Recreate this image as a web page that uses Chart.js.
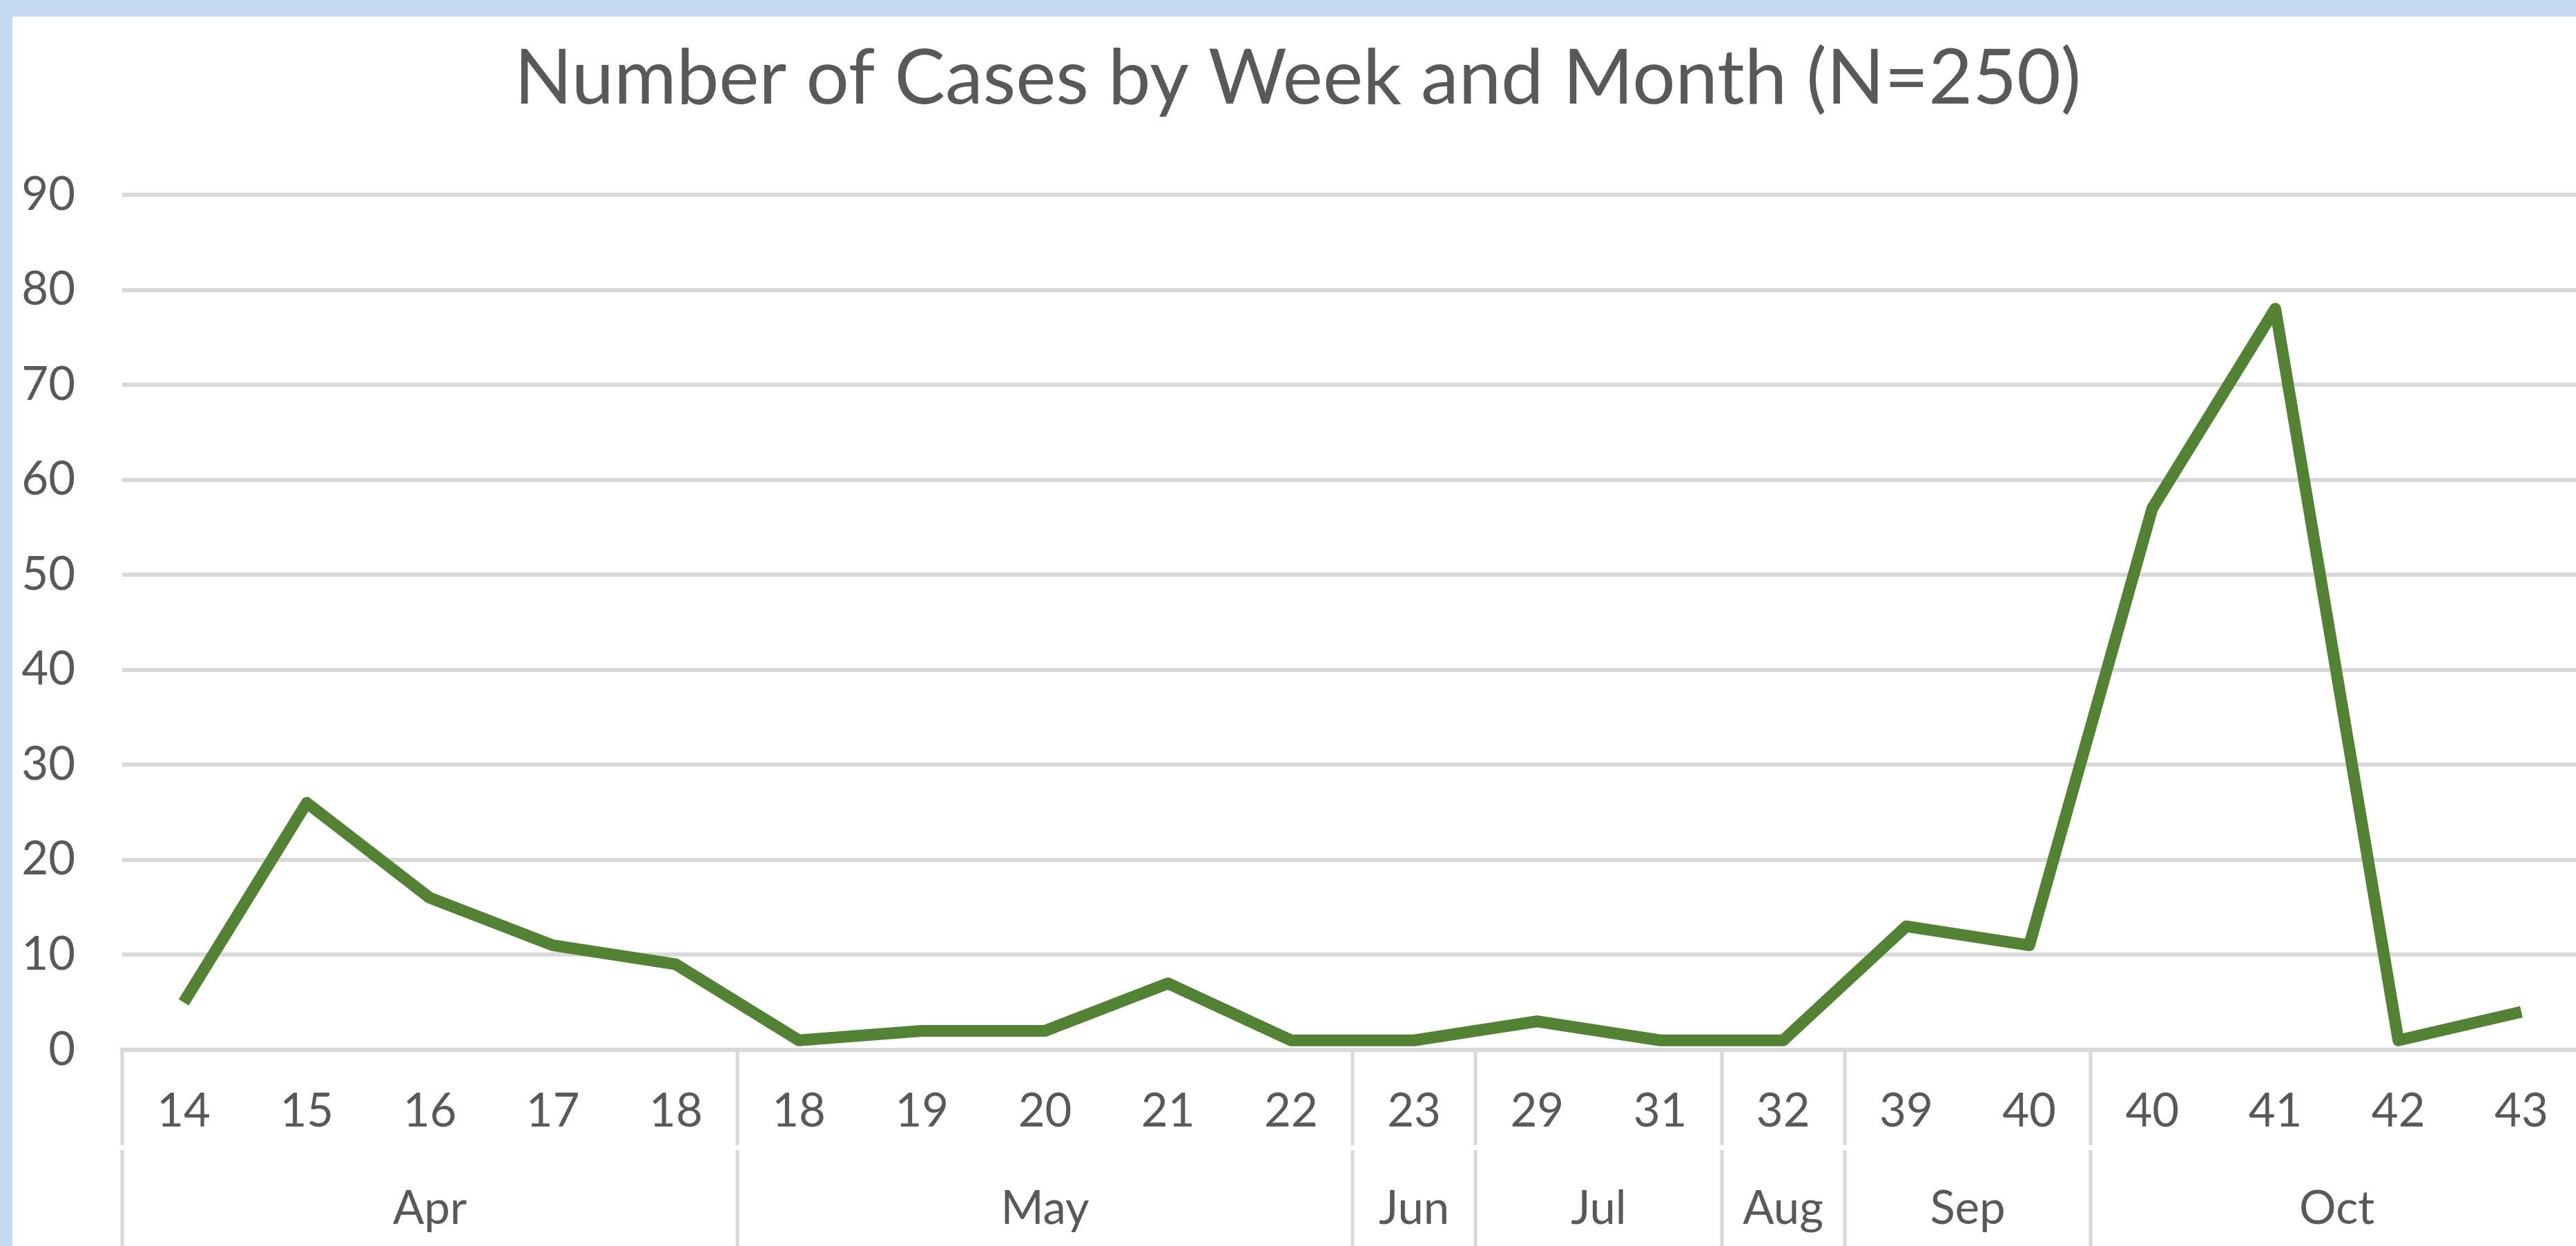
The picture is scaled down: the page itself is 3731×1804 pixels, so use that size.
<!DOCTYPE html>
<html>
<head>
<meta charset="utf-8">
<title>Number of Cases by Week and Month</title>
<script src="https://cdn.jsdelivr.net/npm/chart.js@4.4.1/dist/chart.umd.min.js"></script>
<style>
  html, body { margin: 0; padding: 0; overflow: hidden; background: #C5D9F1; }
  #wrap { position: absolute; left: 18px; top: 24px; width: 3740px; height: 1780px; background: #fff; }
</style>
</head>
<body>
<div id="wrap"><canvas id="casesChart" width="3740" height="1780"></canvas></div>
<script>
// week numbers, one per point
const weeks = ['14', '15', '16', '17', '18', '18', '19', '20', '21', '22', '23', '29', '31', '32', '39', '40', '40', '41', '42', '43'];
// month groups and how many weeks fall in each
const months = ['Apr', 'May', 'Jun', 'Jul', 'Aug', 'Sep', 'Oct'];
const monthSpans = [5, 5, 1, 2, 1, 2, 4];
// cases per week (total 250)
const cases = [5, 26, 16, 11, 9, 1, 2, 2, 7, 1, 1, 3, 1, 1, 13, 11, 57, 78, 1, 4];
const yTicks = [0, 10, 20, 30, 40, 50, 60, 70, 80, 90];

const textColor = '#595959';
const gridColor = '#D9D9D9';
const fontFamily = 'Lato, "Open Sans", sans-serif';

// second row of the category axis: month names + group dividers
const monthRow = {
  id: 'monthRow',
  afterDraw(chart) {
    const x = chart.scales.x;
    const ctx = chart.ctx;
    const half = (x.getPixelForValue(1) - x.getPixelForValue(0)) / 2;
    const top = chart.chartArea.bottom;
    const bottom = chart.height;
    const gapTop = top + 138, gapBottom = top + 145;

    ctx.save();
    ctx.strokeStyle = gridColor;
    ctx.lineWidth = 5;
    ctx.fillStyle = textColor;
    ctx.font = '67px ' + fontFamily;
    ctx.textAlign = 'center';
    ctx.textBaseline = 'alphabetic';

    let start = 0;
    const edges = [];
    months.forEach((m, i) => {
      const end = start + monthSpans[i] - 1;
      const left = x.getPixelForValue(start) - half;
      const right = x.getPixelForValue(end) + half;
      edges.push(left, right);
      ctx.fillText(m, (left + right) / 2, top + 252);
      start = end + 1;
    });

    [...new Set(edges.map(e => Math.round(e)))].forEach(px => {
      ctx.beginPath();
      ctx.moveTo(px, top);
      ctx.lineTo(px, gapTop);
      ctx.moveTo(px, gapBottom);
      ctx.lineTo(px, bottom);
      ctx.stroke();
    });
    ctx.restore();
  }
};

new Chart(document.getElementById('casesChart'), {
  type: 'line',
  data: {
    labels: weeks,
    datasets: [{
      label: 'Cases',
      data: cases,
      borderColor: '#548235',
      borderWidth: 17,
      borderJoinStyle: 'round',
      borderCapStyle: 'butt',
      tension: 0,
      pointRadius: 0,
      fill: false
    }]
  },
  options: {
    responsive: false,
    animation: false,
    devicePixelRatio: 1,
    layout: { padding: { left: 0, right: 17, top: 0, bottom: 0 } },
    plugins: {
      legend: { display: false },
      tooltip: { enabled: false },
      title: {
        display: true,
        text: 'Number of Cases by Week and Month (N=250)',
        color: textColor,
        font: { family: fontFamily, size: 110, weight: 'normal' },
        padding: { top: 25, bottom: 101 }
      }
    },
    scales: {
      x: {
        type: 'category',
        offset: true,
        grid: { display: false, drawTicks: false },
        border: { display: true, color: gridColor, width: 6 },
        ticks: {
          color: textColor,
          font: { family: fontFamily, size: 67 },
          padding: 49,
          maxRotation: 0,
          autoSkip: false
        },
        afterFit: (scale) => { scale.height = 284; }
      },
      y: {
        min: 0,
        max: 90,
        afterBuildTicks: (scale) => { scale.ticks = yTicks.map(v => ({ value: v })); },
        grid: { color: gridColor, lineWidth: 6, drawTicks: false },
        border: { display: false },
        ticks: {
          color: textColor,
          font: { family: fontFamily, size: 67 },
          padding: 68
        },
        afterFit: (scale) => { scale.width = 159; }
      }
    }
  },
  plugins: [monthRow]
});
</script>
</body>
</html>
